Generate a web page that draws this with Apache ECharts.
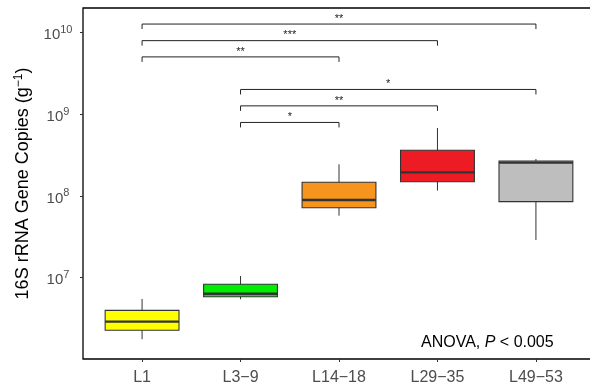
<!DOCTYPE html>
<html><head><meta charset="utf-8">
<script src="https://cdn.jsdelivr.net/npm/echarts@6/dist/echarts.min.js"></script>
<style>html,body{margin:0;padding:0;background:#fff}#c{width:590px;height:389px}</style>
</head><body><div id="c"></div>
<script>
// ---- data ----
const categories = ['L1', 'L3−9', 'L14−18', 'L29−35', 'L49−53'];
const whiskerLow  = [1.77e6, 5.45e6, 5.73e7, 1.16e8, 2.89e7];
const q1          = [2.28e6, 5.86e6, 7.17e7, 1.49e8, 8.5e7];
const median      = [2.90e6, 6.37e6, 8.9e7, 1.94e8, 2.55e8];
const q3          = [3.99e6, 8.3e6, 1.47e8, 3.61e8, 2.67e8];
const whiskerHigh = [5.5e6, 1.05e7, 2.43e8, 6.76e8, 2.82e8];
const boxColors   = ['#FFFF00', '#00EE00', '#F7941D', '#ED1C24', '#BEBEBE'];
const yTicks      = [1e7, 1e8, 1e9, 1e10];
const bracketFrom  = ['L1', 'L1', 'L1', 'L3−9', 'L3−9', 'L3−9'];
const bracketTo    = ['L49−53', 'L29−35', 'L14−18', 'L49−53', 'L29−35', 'L14−18'];
const bracketLevel = [1.26e10, 7.9e9, 5.0e9, 2.0e9, 1.26e9, 7.9e8];
const bracketLabel = ['**', '***', '**', '*', '**', '*'];
const yMin = 1.014e6, yMax = 1.98e10;

const FONT = 'Liberation Sans, Arial, sans-serif';
const lg = Math.log10;
const pos = c => categories.indexOf(c) + 1;

const boxData = categories.map((c, i) => [i + 1, lg(whiskerLow[i]), lg(q1[i]), lg(median[i]), lg(q3[i]), lg(whiskerHigh[i])]);
const bracketData = bracketFrom.map((f, i) => [pos(f), pos(bracketTo[i]), lg(bracketLevel[i])]);

function renderBox(params, api) {
  const x = api.value(0);
  const lo = api.coord([x, api.value(1)]);
  const a = api.coord([x, api.value(2)]);
  const m = api.coord([x, api.value(3)]);
  const b = api.coord([x, api.value(4)]);
  const hi = api.coord([x, api.value(5)]);
  const hw = api.size([0.75, 0])[0] / 2;
  return {
    type: 'group', children: [
      { type: 'line', shape: { x1: lo[0], y1: lo[1], x2: hi[0], y2: hi[1] }, style: { stroke: '#333', lineWidth: 1 } },
      { type: 'rect', shape: { x: a[0] - hw, y: b[1], width: 2 * hw, height: a[1] - b[1] },
        style: { fill: boxColors[params.dataIndex], stroke: '#333', lineWidth: 1.1 } },
      { type: 'line', shape: { x1: m[0] - hw, y1: m[1], x2: m[0] + hw, y2: m[1] }, style: { stroke: '#333', lineWidth: 2.4 } }
    ]
  };
}

function renderBracket(params, api) {
  const i = params.dataIndex;
  const p1 = api.coord([api.value(0), api.value(2)]);
  const p2 = api.coord([api.value(1), api.value(2)]);
  const t = 5;
  return {
    type: 'group', children: [
      { type: 'polyline', shape: { points: [[p1[0], p1[1] + t], [p1[0], p1[1]], [p2[0], p2[1]], [p2[0], p2[1] + t]] },
        style: { stroke: '#222', lineWidth: 1, fill: null } },
      { type: 'text', x: (p1[0] + p2[0]) / 2, y: p1[1] - 5.2,
        style: { text: bracketLabel[i], fontSize: 11, fill: '#222', align: 'center', verticalAlign: 'middle', fontFamily: FONT } }
    ]
  };
}

const chart = echarts.init(document.getElementById('c'));
chart.setOption({
  animation: false,
  backgroundColor: '#fff',
  grid: { left: 83, top: 8, width: 512, height: 351, show: true, borderColor: '#000', borderWidth: 1.3,
    containLabel: false, outerBoundsMode: 'none' },
  xAxis: {
    type: 'value', min: 0.4, max: 5.6,
    axisLine: { show: false }, splitLine: { show: false },
    axisTick: { show: true, length: 3, lineStyle: { color: '#333' }, customValues: categories.map((c, i) => i + 1) },
    axisLabel: { customValues: categories.map((c, i) => i + 1), formatter: v => categories[Math.round(v) - 1],
      color: '#4d4d4d', fontSize: 16, margin: 11, fontFamily: FONT }
  },
  yAxis: {
    type: 'value', min: lg(yMin), max: lg(yMax),
    axisLine: { show: false }, splitLine: { show: false },
    axisTick: { show: true, length: 3, lineStyle: { color: '#333' }, customValues: yTicks.map(lg) },
    axisLabel: {
      customValues: yTicks.map(lg), align: 'center', margin: 25, fontSize: 15, color: '#4d4d4d', fontFamily: FONT,
      formatter: v => '{b|10}{s|' + Math.round(v) + '}',
      rich: {
        b: { fontSize: 15, color: '#4d4d4d', fontFamily: FONT, padding: [5, 0, 0, 0] },
        s: { fontSize: 11, color: '#4d4d4d', fontFamily: FONT, padding: [0, 0, 5, 0] }
      }
    },
    name: '{t|16S rRNA Gene Copies (g}{s|−1}{t|)}',
    nameLocation: 'middle', nameRotate: 90, nameGap: 49,
    nameTextStyle: {
      fontSize: 18, fontFamily: FONT, color: '#000',
      rich: {
        t: { fontSize: 18, color: '#000', fontFamily: FONT },
        s: { fontSize: 12, color: '#000', fontFamily: FONT, padding: [0, 0, 9, 0] }
      }
    }
  },
  graphic: [{
    type: 'text', x: 421, y: 342.8,
    style: {
      text: '{n|ANOVA, }{i|P}{n| < 0.005}', verticalAlign: 'middle', align: 'left',
      rich: {
        n: { fontSize: 16, fill: '#000', fontFamily: FONT },
        i: { fontSize: 16, fill: '#000', fontFamily: FONT, fontStyle: 'italic' }
      }
    }
  }],
  series: [
    { type: 'custom', renderItem: renderBox, data: boxData, encode: { x: 0, y: [1, 2, 3, 4, 5] }, clip: false },
    { type: 'custom', renderItem: renderBracket, data: bracketData, encode: { x: [0, 1], y: 2 }, clip: false }
  ]
});
</script></body></html>
